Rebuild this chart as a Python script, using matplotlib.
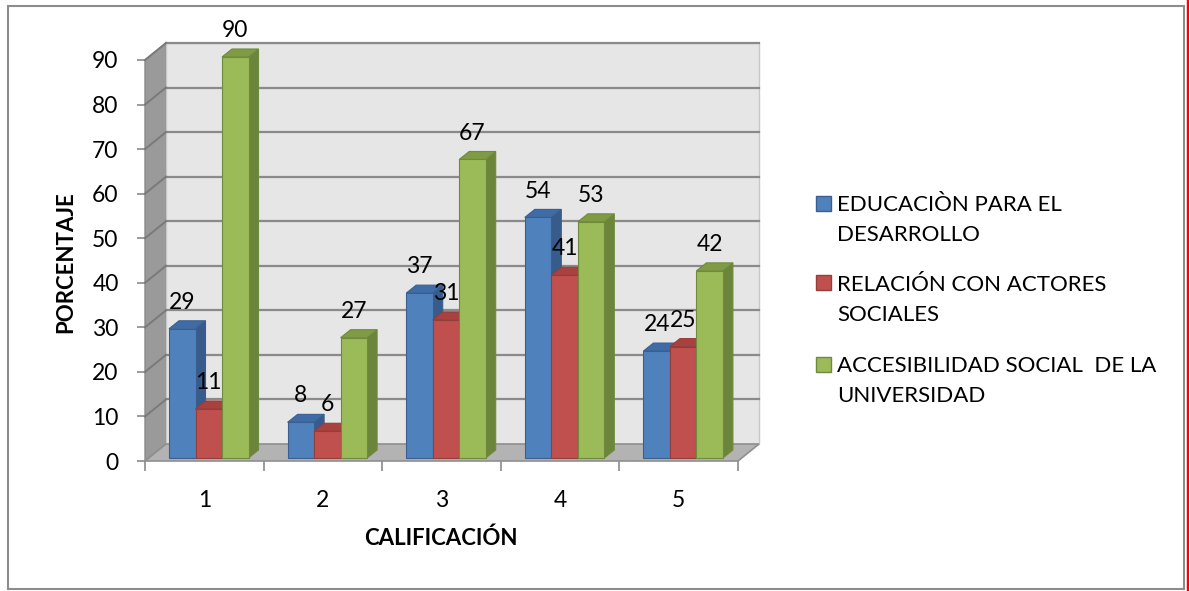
import matplotlib
matplotlib.use("Agg")
import matplotlib.pyplot as plt
from matplotlib.patches import Polygon, Rectangle
from matplotlib.lines import Line2D

# 1189 x 591 image, Excel-style 3D clustered columns

categories = [1, 2, 3, 4, 5]
series_names = [["EDUCACIÒN PARA EL", "DESARROLLO"],
                ["RELACIÓN CON ACTORES", "SOCIALES"],
                ["ACCESIBILIDAD SOCIAL  DE LA", "UNIVERSIDAD"]]
educacion = [29, 8, 37, 54, 24]
relacion = [11, 6, 31, 41, 25]
accesibilidad = [90, 27, 67, 53, 42]
series = [educacion, relacion, accesibilidad]

# front, top, side colours for each series
face_cols = ["#4f81bd", "#c0504d", "#9bbb59"]
top_cols = ["#3f6ca6", "#a9423f", "#7f9c45"]
side_cols = ["#375c8c", "#8e3b39", "#6b853a"]
edge_cols = ["#3a5f8f", "#943d3b", "#6f8a3c"]

plt.rcParams['font.family'] = ['Lato', 'DejaVu Sans']

W, H = 1189, 591
fig = plt.figure(figsize=(W / 100, H / 100), dpi=100)

def fx(x):
    return x / W

def fy(y):
    return 1 - y / H

ax = fig.add_axes([fx(145), fy(461), fx(738) - fx(145), fy(60) - fy(461)])
ax.set_xlim(0.5, 5.5)
ax.set_ylim(0, 90)
for s in ax.spines.values():
    s.set_visible(False)

ux = 593 / 5.0      # px per category
uy = 401 / 90.0     # px per unit value
wdx, wdy = 21 / ux, 17 / uy        # wall depth
bdx, bdy = 10 / ux, 8 / uy         # bar depth
sdy = 3 / uy                       # bar lift inside depth
bw = 26.5 / ux
goff = 24 / ux

grid_col = "#8a8a8a"
# walls
ax.add_patch(Polygon([(0.5, 0), (0.5 + wdx, wdy), (0.5 + wdx, 90 + wdy), (0.5, 90)],
                     closed=True, facecolor="#9a9a9a", edgecolor="#8a8a8a", lw=1, clip_on=False, zorder=1))
ax.add_patch(Polygon([(0.5 + wdx, wdy), (5.5 + wdx, wdy), (5.5 + wdx, 90 + wdy), (0.5 + wdx, 90 + wdy)],
                     closed=True, facecolor="#e6e6e6", edgecolor="#c8c8c8", lw=1, clip_on=False, zorder=1))
for v in range(10, 100, 10):
    ax.add_line(Line2D([0.5 + wdx, 5.5 + wdx], [v + wdy, v + wdy], color=grid_col, lw=1.6, clip_on=False, zorder=2))
    ax.add_line(Line2D([0.5, 0.5 + wdx], [v, v + wdy], color="#7a7a7a", lw=1.4, clip_on=False, zorder=2))
# floor
ax.add_patch(Polygon([(0.5, 0), (5.5, 0), (5.5 + wdx, wdy), (0.5 + wdx, wdy)],
                     closed=True, facecolor="#b3b3b3", edgecolor="#8f8f8f", lw=1.2, clip_on=False, zorder=2))

# bars
for ci, c in enumerate(categories):
    for si, vals in enumerate(series):
        v = vals[ci]
        x0 = c - 0.5 + goff + si * bw
        y0 = sdy
        x1 = x0 + bw
        y1 = v + sdy
        ax.add_patch(Polygon([(x1, y0), (x1 + bdx, y0 + bdy), (x1 + bdx, y1 + bdy), (x1, y1)],
                             closed=True, facecolor=side_cols[si], edgecolor=edge_cols[si], lw=0.8,
                             clip_on=False, zorder=3))
        ax.add_patch(Polygon([(x0, y1), (x1, y1), (x1 + bdx, y1 + bdy), (x0 + bdx, y1 + bdy)],
                             closed=True, facecolor=top_cols[si], edgecolor=edge_cols[si], lw=0.8,
                             clip_on=False, zorder=3))
        ax.add_patch(Rectangle((x0, y0), bw, v, facecolor=face_cols[si], edgecolor=edge_cols[si],
                               lw=0.8, clip_on=False, zorder=3))
        ax.annotate(str(v), ((x0 + x1) / 2, y1), xytext=(0, 19), textcoords="offset points",
                    ha="center", va="center", fontsize=16.5, color="black", zorder=5,
                    annotation_clip=False)

# axes ticks
ax.set_yticks(range(0, 100, 10))
ax.tick_params(axis="y", length=6, width=1.2, color="#8a8a8a", pad=13, labelsize=16.5)
ax.set_xticks(categories)
ax.set_xticks([0.5, 1.5, 2.5, 3.5, 4.5, 5.5], minor=True)
ax.tick_params(axis="x", which="major", length=0, pad=21, labelsize=16.5)
ax.tick_params(axis="x", which="minor", length=7, width=1.2, color="#8a8a8a")

fig.text(fx(66), fy(262), "PORCENTAJE", rotation=90, ha="center", va="center",
         fontsize=16, fontweight="bold")
fig.text(fx(441), fy(538), "CALIFICACIÓN", ha="center", va="center",
         fontsize=16, fontweight="bold")

# legend
leg_y = [203, 283, 364]
for si, name in enumerate(series_names):
    fig.add_artist(Rectangle((fx(816), fy(leg_y[si] + 7.5)), 15 / W, 15 / H, transform=fig.transFigure,
                             facecolor=face_cols[si], edgecolor=edge_cols[si], lw=1))
    for li, line in enumerate(name):
        fig.text(fx(837), fy(leg_y[si] + 8 + li * 30.5), line, ha="left", va="baseline",
                 fontsize=16)

# outer border and red rule
fig.add_artist(Rectangle((fx(8), fy(589)), (1184 - 8) / W, (589 - 6) / H, transform=fig.transFigure,
                         facecolor="none", edgecolor="#8c8c8c", lw=1.5))
fig.add_artist(Line2D([fx(1187.5), fx(1187.5)], [0, 1], color="red", lw=2.5, transform=fig.transFigure))

fig.savefig("out.png", dpi=100)
